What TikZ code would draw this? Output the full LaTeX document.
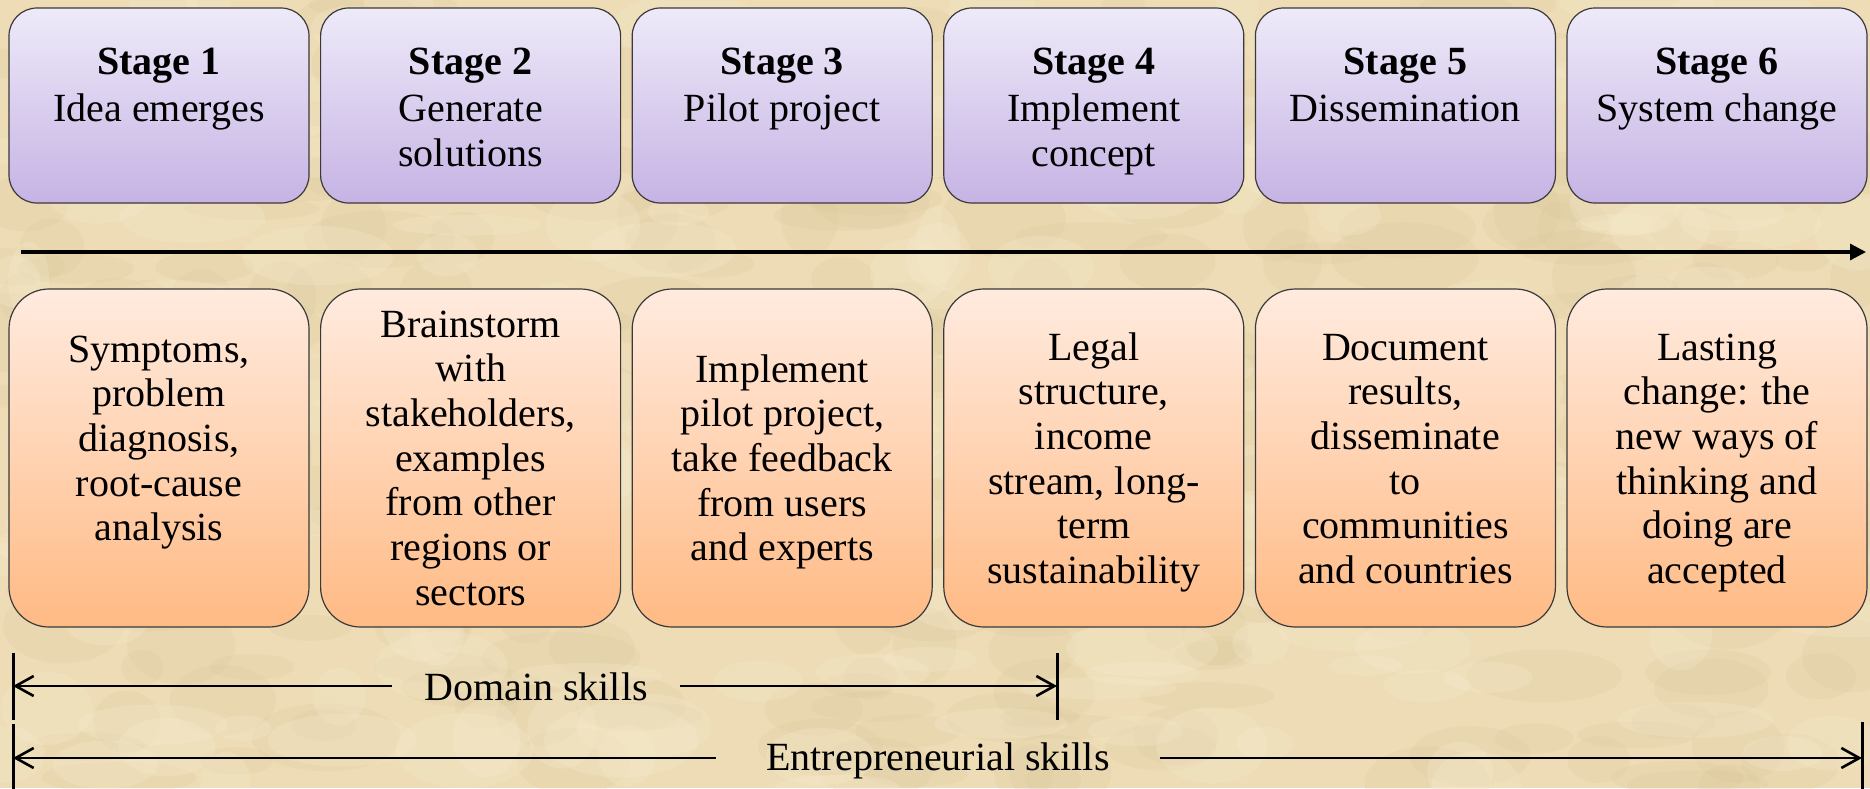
\documentclass[tikz,border=0pt]{standalone}
\usepackage{fontspec}
\setmainfont{Liberation Serif}
\usetikzlibrary{arrows.meta}
\definecolor{parch}{HTML}{EDDCB6}
\definecolor{parchdark}{HTML}{D8C398}
\definecolor{parchlight}{HTML}{F8EDD0}
\definecolor{lavtop}{HTML}{EEEAF9}
\definecolor{lavbot}{HTML}{C6B3E4}
\definecolor{ortop}{HTML}{FFEBDF}
\definecolor{orbot}{HTML}{FFBA84}
\definecolor{edgecol}{HTML}{3A3A3A}
\newcommand{\tlines}[1]{\begin{tabular}[t]{@{}c@{}}#1\end{tabular}}
\begin{document}
\begin{tikzpicture}[x=0.5pt,y=-0.5pt,
  stagebox/.style={draw=edgecol, line width=0.6pt, rounded corners=14pt,
    minimum width=150pt, minimum height=97.5pt, inner sep=0pt, outer sep=0pt,
    top color=lavtop, bottom color=lavbot},
  taskbox/.style={draw=edgecol, line width=0.6pt, rounded corners=20pt,
    minimum width=150pt, minimum height=169pt, inner sep=0pt, outer sep=0pt,
    top color=ortop, bottom color=orbot},
  boxtext/.style={anchor=base, inner sep=0pt, font=\fontsize{20}{22.35}\selectfont},
  skilltext/.style={anchor=base, inner ysep=0pt, font=\fontsize{20}{22.35}\selectfont},
  mainarrow/.style={line width=1.6pt, -{Triangle[length=8pt,width=8pt]}},
  skillarrow/.style={line width=1.3pt, -{Straight Barb[length=9pt,width=10pt]}},
  skillbar/.style={line width=1.5pt}]
\useasboundingbox (0,0) rectangle (1870,788);
\fill[parch] (0,0) rectangle (1870,788);
\begin{scope}
\clip (0,0) rectangle (1870,788);
\pgfmathsetseed{4217}
\foreach \i in {1,...,260}{
  \pgfmathsetmacro{\px}{rnd*1870}
  \pgfmathsetmacro{\py}{rnd*788}
  \pgfmathsetmacro{\rx}{20+rnd*60}
  \pgfmathsetmacro{\ry}{10+rnd*30}
  \fill[parchdark, opacity=0.18] (\px,\py) ellipse [x radius=\rx, y radius=\ry];
}
\foreach \i in {1,...,200}{
  \pgfmathsetmacro{\px}{rnd*1870}
  \pgfmathsetmacro{\py}{rnd*788}
  \pgfmathsetmacro{\rx}{20+rnd*60}
  \pgfmathsetmacro{\ry}{10+rnd*30}
  \fill[parchlight, opacity=0.25] (\px,\py) ellipse [x radius=\rx, y radius=\ry];
}
\end{scope}

% stage boxes
\node[stagebox] (s1) at (159,105.5) {};
\node[stagebox] (s2) at (470.6,105.5) {};
\node[stagebox] (s3) at (782.2,105.5) {};
\node[stagebox] (s4) at (1093.8,105.5) {};
\node[stagebox] (s5) at (1405.4,105.5) {};
\node[stagebox] (s6) at (1717,105.5) {};

\node[boxtext] (st1) at (159,74) {\tlines{\textbf{Stage 1}\\[1.5pt] Idea emerges}};
\node[boxtext] (st2) at (470.6,74) {\tlines{\textbf{Stage 2}\\[1.5pt] Generate\\ solutions}};
\node[boxtext] (st3) at (782.2,74) {\tlines{\textbf{Stage 3}\\[1.5pt] Pilot project}};
\node[boxtext] (st4) at (1093.8,74) {\tlines{\textbf{Stage 4}\\[1.5pt] Implement\\ concept}};
\node[boxtext] (st5) at (1405.4,74) {\tlines{\textbf{Stage 5}\\[1.5pt] Dissemination}};
\node[boxtext] (st6) at (1717,74) {\tlines{\textbf{Stage 6}\\[1.5pt] System change}};

% timeline arrow
\coordinate (tl0) at (21,252);
\coordinate (tl1) at (1866,252);
\draw[mainarrow] (tl0) -- (tl1);

% task boxes
\node[taskbox] (d1) at (159,458) {};
\node[taskbox] (d2) at (470.6,458) {};
\node[taskbox] (d3) at (782.2,458) {};
\node[taskbox] (d4) at (1093.8,458) {};
\node[taskbox] (d5) at (1405.4,458) {};
\node[taskbox] (d6) at (1717,458) {};

\node[boxtext] (dt1) at (159,362) {\tlines{Symptoms,\\ problem\\ diagnosis,\\ root-cause\\ analysis}};
\node[boxtext] (dt2) at (470.6,337) {\tlines{Brainstorm\\ with\\ stakeholders,\\ examples\\ from other\\ regions or\\ sectors}};
\node[boxtext] (dt3) at (782.2,382) {\tlines{Implement\\ pilot project,\\ take feedback\\ from users\\ and experts}};
\node[boxtext] (dt4) at (1093.8,360) {\tlines{Legal\\ structure,\\ income\\ stream, long-\\ term\\ sustainability}};
\node[boxtext] (dt5) at (1405.4,360) {\tlines{Document\\ results,\\ disseminate\\ to\\ communities\\ and countries}};
\node[boxtext] (dt6) at (1717,360) {\tlines{Lasting\\ change: the\\ new ways of\\ thinking and\\ doing are\\ accepted}};

% domain skills
\coordinate (dbl1) at (13,653);
\coordinate (dbl2) at (13,720);
\coordinate (dbr1) at (1057,653);
\coordinate (dbr2) at (1057,720);
\coordinate (dl) at (13,686);
\coordinate (dr) at (1057,686);
\draw[skillbar] (dbl1) -- (dbl2);
\draw[skillbar] (dbr1) -- (dbr2);
\node[skilltext, inner xsep=16pt] (dom) at (536,700) {Domain skills};
\draw[skillarrow] (dom.west |- dl) -- (dl);
\draw[skillarrow] (dom.east |- dr) -- (dr);

% entrepreneurial skills
\coordinate (ebl1) at (13,724);
\coordinate (ebl2) at (13,790);
\coordinate (ebr1) at (1862,722);
\coordinate (ebr2) at (1862,790);
\coordinate (el) at (13,758);
\coordinate (er) at (1862,758);
\draw[skillbar] (ebl1) -- (ebl2);
\draw[skillbar] (ebr1) -- (ebr2);
\node[skilltext, inner xsep=25pt] (ent) at (938,770) {Entrepreneurial skills};
\draw[skillarrow] (ent.west |- el) -- (el);
\draw[skillarrow] (ent.east |- er) -- (er);
\end{tikzpicture}
\end{document}
